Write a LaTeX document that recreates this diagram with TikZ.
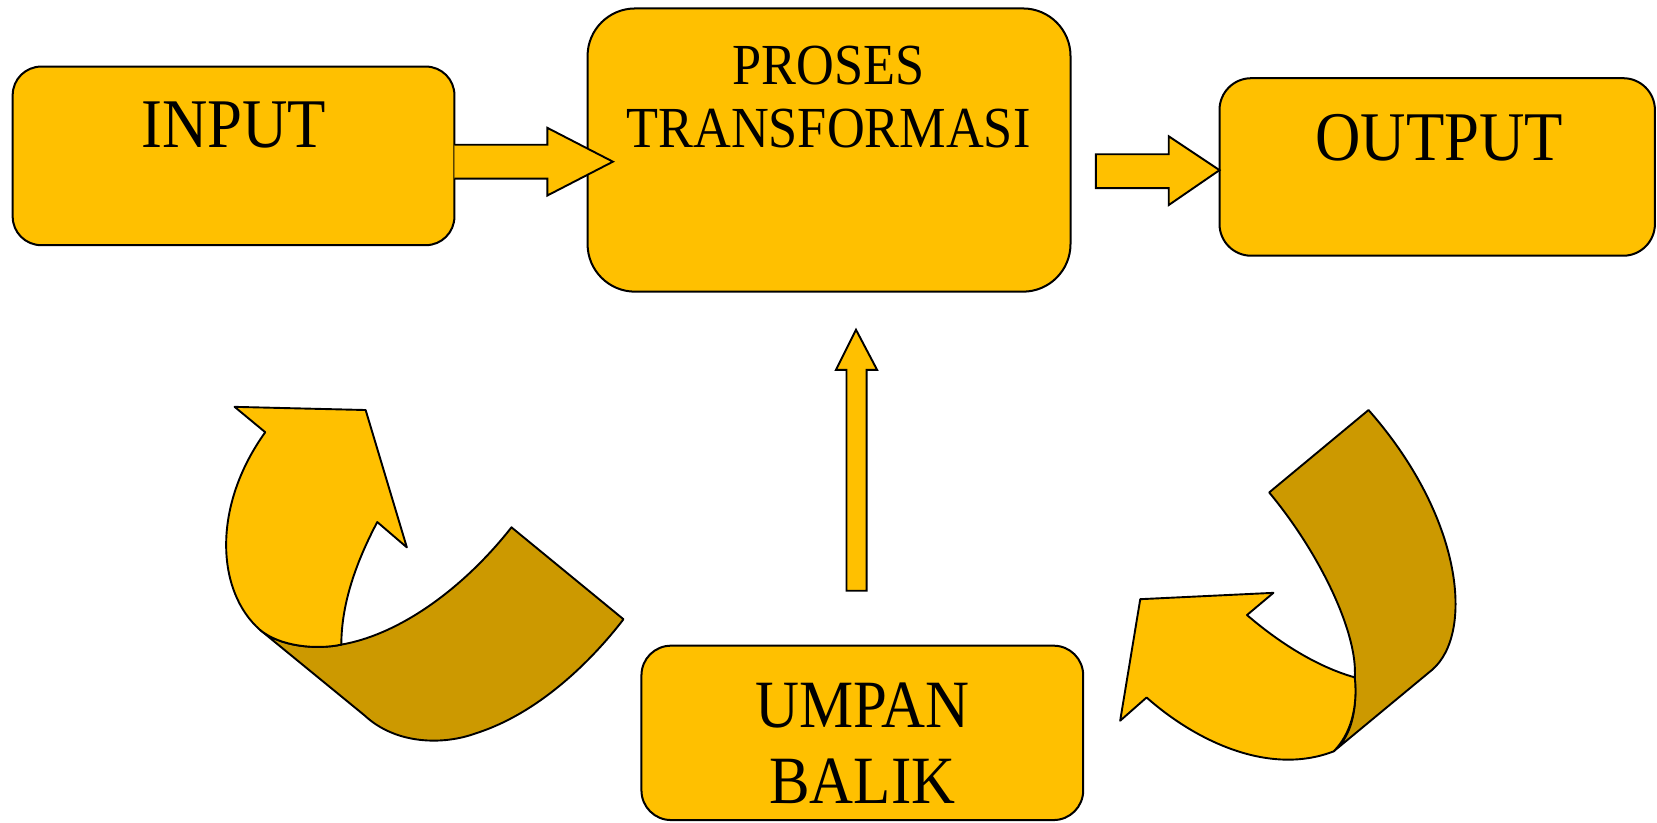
\documentclass[tikz,border=0pt]{standalone}
\usepackage{fontspec}
\setmainfont{Liberation Serif}
\definecolor{gold}{RGB}{255,192,0}
\definecolor{darkgold}{RGB}{204,153,0}
\newcommand{\nar}[1]{\scalebox{0.9}[1]{#1}}
\begin{document}
\begin{tikzpicture}[x=1pt,y=-1pt,
  box/.style={draw=black,fill=gold,line width=1.9pt,inner sep=0pt,outer sep=0pt},
  blk/.style={draw=black,fill=gold,line width=1.8pt,line join=miter},
  blkd/.style={draw=black,fill=darkgold,line width=1.8pt,line join=round},
  lbl/.style={anchor=base,inner sep=0pt}]
\useasboundingbox (0,0) rectangle (1568,778);
% boxes
\node[box,rounded corners=27pt,minimum width=418pt,minimum height=169pt] (in) at (221,147.5) {};
\node[box,rounded corners=45pt,minimum width=457pt,minimum height=268pt] (pr) at (784.5,142) {};
\node[box,rounded corners=30pt,minimum width=412pt,minimum height=168pt] (out) at (1360,158) {};
\node[box,rounded corners=28pt,minimum width=418pt,minimum height=165pt] (fb) at (816,693.5) {};
% labels
\node[lbl,font=\fontsize{66}{70}\selectfont] (tin) at (221,140) {\nar{INPUT}};
\node[lbl,font=\fontsize{55}{60}\selectfont] (tpr1) at (784,80) {\nar{PROSES}};
\node[lbl,font=\fontsize{55}{60}\selectfont] (tpr2) at (784,140) {\nar{TRANSFORMASI}};
\node[lbl,font=\fontsize{66}{70}\selectfont] (tout) at (1362,152) {\nar{OUTPUT}};
\node[lbl,font=\fontsize{64}{70}\selectfont] (tfb1) at (816,688) {\nar{UMPAN}};
\node[lbl,font=\fontsize{64}{70}\selectfont] (tfb2) at (816,760) {\nar{BALIK}};
% block arrow input -> proses
\draw[blk] (in.east |- 0,137) -- (518,137) -- (518,121) -- (580,153) -- (518,185) -- (518,169) -- (in.east |- 0,169);
% block arrow proses -> output
\draw[blk] (1037,146) -- (1106,146) -- (1106,129) -- (out.west |- 0,161) -- (1106,194) -- (1106,178) -- (1037,178) -- cycle;
% vertical arrow feedback -> proses
\draw[blk] (801,559) -- (801,350) -- (791,350) -- (810,312) -- (830,350) -- (820,350) -- (820,559) -- cycle;
% left curved arrow: dark back
\draw[blkd] (590,586) -- (484,499) .. controls (440,555) and (380,600) .. (323,610)
  .. controls (300,615) and (265,612) .. (246,596) -- (345,677)
  .. controls (375,705) and (420,705) .. (450,694)
  .. controls (510,675) and (560,625) .. (590,586) -- cycle;
% left curved arrow: light front
\draw[blk,line join=round] (251,409) -- (222,385) -- (346,388) -- (385,518) -- (357,494)
  .. controls (338,530) and (323,570) .. (323,610)
  .. controls (300,615) and (265,612) .. (246,596)
  .. controls (205,560) and (200,480) .. (251,409) -- cycle;
% right curved arrow: dark back
\draw[blkd] (1295,388) -- (1201,466) .. controls (1250,525) and (1285,600) .. (1282,641)
  .. controls (1285,680) and (1275,700) .. (1262,711) -- (1355,634)
  .. controls (1395,600) and (1385,490) .. (1295,388) -- cycle;
% right curved arrow: light front
\draw[blk,line join=round] (1205,561) -- (1079,567) -- (1060,682) -- (1085,660)
  .. controls (1130,700) and (1200,735) .. (1262,711)
  .. controls (1278,695) and (1285,670) .. (1282,641)
  .. controls (1250,632) and (1215,612) .. (1180,582) -- cycle;
\end{tikzpicture}
\end{document}
